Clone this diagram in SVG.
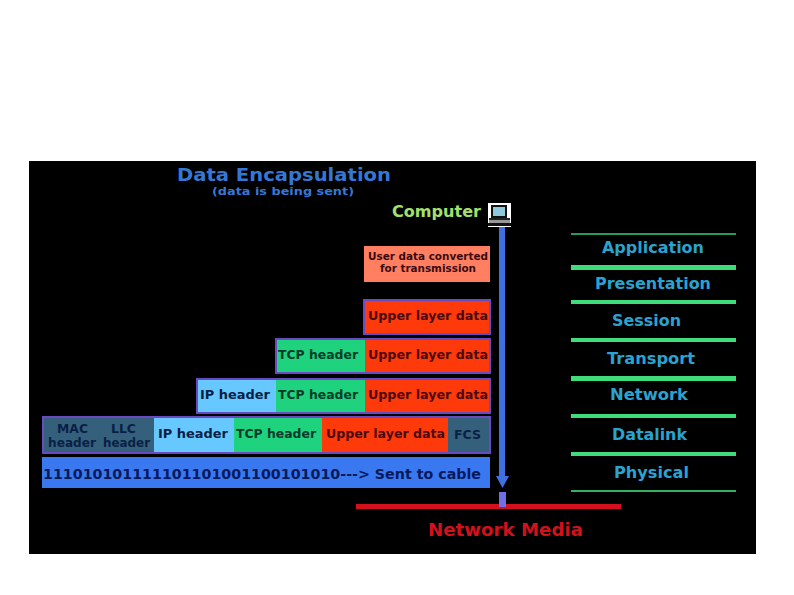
<svg xmlns="http://www.w3.org/2000/svg" width="794" height="595" viewBox="0 0 794 595">
<style>
text{font-family:"DejaVu Sans","Liberation Sans",sans-serif;font-weight:bold}
.c{font-size:11.5px;fill:#0a1f45}
.g{font-size:11.5px;fill:#053a2a}
.r{font-size:11.5px;fill:#4a0a10}
.o{font-size:15px;fill:#2aa3d0}
.l{fill:#3fdc7c}
.f{fill:none;stroke:#6a4ac0;stroke-width:2}
</style>
<rect width="794" height="595" fill="#fff"/>
<rect x="29" y="161" width="727" height="393" fill="#000"/>
<text x="177" y="181" font-size="18.5" fill="#3578d4" textLength="214" lengthAdjust="spacingAndGlyphs">Data Encapsulation</text>
<text x="212" y="195" font-size="11" fill="#3578d4" textLength="142" lengthAdjust="spacingAndGlyphs">(data is being sent)</text>
<g id="computer">
<text x="392" y="217" font-size="15" fill="#a4e06a" textLength="89" lengthAdjust="spacingAndGlyphs">Computer</text>
<rect x="488" y="203" width="23" height="24" fill="#fff"/>
<rect x="491" y="205" width="16" height="13" fill="#111"/>
<rect x="493" y="207" width="12" height="9" fill="#8fc8dc"/>
<rect x="489" y="218" width="21" height="2" fill="#222"/>
<rect x="489" y="220" width="21" height="3" fill="#999"/>
<rect x="488" y="223" width="23" height="3" fill="#111"/>
</g>
<g id="connectors">
<rect x="499" y="227" width="6" height="250" fill="#3f70e0"/>
<polygon points="496,476 509,476 502.500,488" fill="#3f70e0"/>
<rect x="356" y="504" width="265" height="5" fill="#d4101c"/>
<rect x="499" y="492" width="7" height="15" fill="#6f6fe8"/>
</g>
<g id="user-data">
<rect x="364" y="246" width="126" height="36" fill="#ff7f60"/>
<text x="368" y="260" textLength="120" lengthAdjust="spacingAndGlyphs" style="font-size:10px;fill:#3a0a10">User data converted</text>
<text x="380" y="272" textLength="96" lengthAdjust="spacingAndGlyphs" style="font-size:10px;fill:#3a0a10">for transmission</text>
</g>
<g id="row-upper">
<rect x="364" y="300" width="126" height="34" fill="#ff3a0a"/>
<rect class="f" x="364" y="300" width="126" height="34"/>
<text class="r" x="368" y="320" textLength="120" lengthAdjust="spacingAndGlyphs">Upper layer data</text>
</g>
<g id="row-tcp">
<rect x="276" y="339" width="89" height="34" fill="#1fd27e"/>
<rect x="365" y="339" width="125" height="34" fill="#ff3a0a"/>
<rect class="f" x="276" y="339" width="214" height="34"/>
<text class="g" x="278" y="359" textLength="80" lengthAdjust="spacingAndGlyphs">TCP header</text>
<text class="r" x="368" y="359" textLength="120" lengthAdjust="spacingAndGlyphs">Upper layer data</text>
</g>
<g id="row-ip">
<rect x="197" y="379" width="79" height="34" fill="#66c8ff"/>
<rect x="276" y="379" width="89" height="34" fill="#1fd27e"/>
<rect x="365" y="379" width="125" height="34" fill="#ff3a0a"/>
<rect class="f" x="197" y="379" width="293" height="34"/>
<text class="c" x="200" y="399" textLength="70" lengthAdjust="spacingAndGlyphs">IP header</text>
<text class="g" x="278" y="399" textLength="80" lengthAdjust="spacingAndGlyphs">TCP header</text>
<text class="r" x="368" y="399" textLength="120" lengthAdjust="spacingAndGlyphs">Upper layer data</text>
</g>
<g id="row-frame">
<rect x="43" y="417" width="111" height="36" fill="#35607c"/>
<rect x="154" y="417" width="80" height="36" fill="#66c8ff"/>
<rect x="234" y="417" width="88" height="36" fill="#1fd27e"/>
<rect x="322" y="417" width="126" height="36" fill="#ff3a0a"/>
<rect x="448" y="417" width="42" height="36" fill="#35607c"/>
<rect class="f" x="43" y="417" width="447" height="36"/>
<text class="c" x="57" y="433" textLength="31" lengthAdjust="spacingAndGlyphs">MAC</text>
<text class="c" x="48" y="447" textLength="48" lengthAdjust="spacingAndGlyphs">header</text>
<text class="c" x="111" y="433" textLength="25" lengthAdjust="spacingAndGlyphs">LLC</text>
<text class="c" x="103" y="447" textLength="47" lengthAdjust="spacingAndGlyphs">header</text>
<text class="c" x="158" y="438" textLength="70" lengthAdjust="spacingAndGlyphs">IP header</text>
<text class="g" x="236" y="438" textLength="80" lengthAdjust="spacingAndGlyphs">TCP header</text>
<text class="r" x="326" y="438" textLength="119" lengthAdjust="spacingAndGlyphs">Upper layer data</text>
<text class="c" x="454" y="439" textLength="27" lengthAdjust="spacingAndGlyphs">FCS</text>
</g>
<g id="row-bits">
<rect x="42" y="457" width="448" height="31" fill="#3a78f0"/>
<text x="43" y="479" font-size="13.5" fill="#071a5c" textLength="438" lengthAdjust="spacingAndGlyphs">111010101111101101001100101010---&gt; Sent to cable</text>
</g>
<g id="osi-lines">
<rect class="l" x="571" y="233" width="165" height="2" fill-opacity=".7"/>
<rect class="l" x="571" y="265" width="165" height="5"/>
<rect class="l" x="571" y="300" width="165" height="4"/>
<rect class="l" x="571" y="338" width="165" height="4"/>
<rect class="l" x="571" y="376" width="165" height="5"/>
<rect class="l" x="571" y="414" width="165" height="4"/>
<rect class="l" x="571" y="452" width="165" height="4"/>
<rect class="l" x="571" y="490" width="165" height="2" fill-opacity=".8"/>
</g>
<g id="application"><text class="o" x="602" y="253" textLength="102" lengthAdjust="spacingAndGlyphs">Application</text></g>
<g id="presentation"><text class="o" x="595" y="289" textLength="116" lengthAdjust="spacingAndGlyphs">Presentation</text></g>
<g id="session"><text class="o" x="612" y="326" textLength="69" lengthAdjust="spacingAndGlyphs">Session</text></g>
<g id="transport"><text class="o" x="607" y="364" textLength="88" lengthAdjust="spacingAndGlyphs">Transport</text></g>
<g id="network"><text class="o" x="610" y="400" textLength="78" lengthAdjust="spacingAndGlyphs">Network</text></g>
<g id="datalink"><text class="o" x="612" y="440" textLength="75" lengthAdjust="spacingAndGlyphs">Datalink</text></g>
<g id="physical"><text class="o" x="614" y="478" textLength="75" lengthAdjust="spacingAndGlyphs">Physical</text></g>
<text x="428" y="536" font-size="17.500" fill="#d4101c" textLength="155" lengthAdjust="spacingAndGlyphs">Network Media</text>
</svg>
